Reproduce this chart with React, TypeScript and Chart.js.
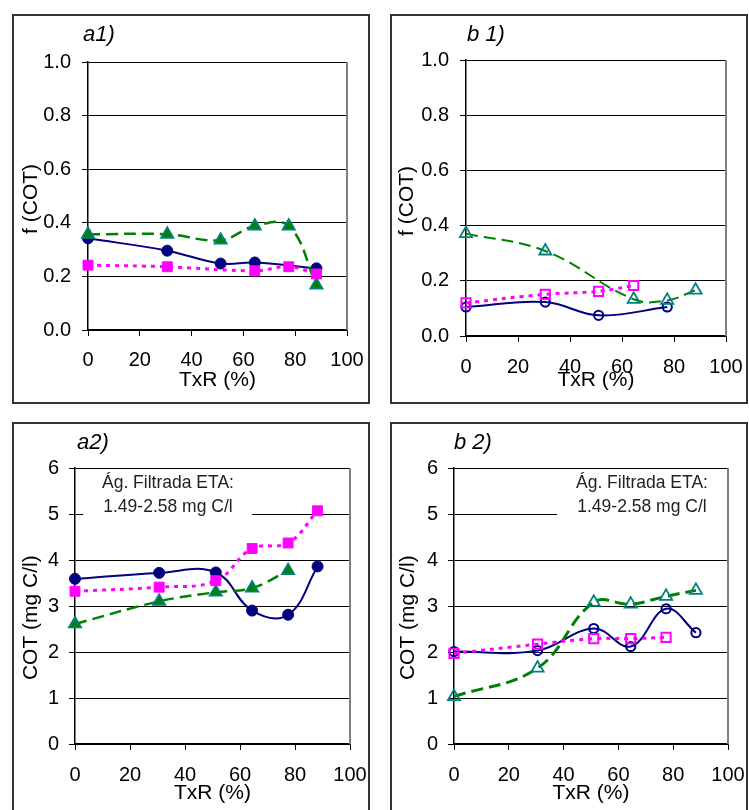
import React, { useEffect, useRef } from 'react';
import { Chart, registerables } from 'chart.js';
Chart.register(...registerables);

const FONT = "'Liberation Sans', Arial, Helvetica, sans-serif";

// TxR (%) of the sampling points
const txrA = [0, 30.6, 51.2, 64.4, 77.5, 88.2];
const txrB = [0, 30.5, 51, 64.5, 77.4, 88.3];

// a1) f (COT)
const a1Circles = [0.342, 0.296, 0.248, 0.252, null, 0.23];
const a1Squares = [0.242, 0.236, null, 0.221, 0.236, 0.209];
const a1Triangles = [0.357, 0.357, 0.335, 0.388, 0.388, 0.168];

// b1) f (COT)
const b1Circles = [0.105, 0.123, 0.075, null, 0.105, null];
const b1Squares = [0.12, 0.151, 0.162, 0.183, null, null];
const b1Triangles = [0.371, 0.308, null, 0.133, 0.129, 0.166];

// a2) COT (mg C/l)
const a2Circles = [3.59, 3.72, 3.73, 2.9, 2.81, 3.86];
const a2Squares = [3.32, 3.41, 3.55, 4.25, 4.37, 5.07];
const a2Triangles = [2.61, 3.1, 3.3, 3.39, 3.77, null];

// b2) COT (mg C/l)
const b2Circles = [2.01, 2.03, 2.51, 2.12, 2.94, 2.42];
const b2Squares = [1.97, 2.17, 2.29, 2.29, 2.32, null];
const b2Triangles = [1.03, 1.65, 3.08, 3.04, 3.21, 3.34];

const xTickLabels = ['0', '20', '40', '60', '80', '100'];
const fTickLabels = ['0.0', '0.2', '0.4', '0.6', '0.8', '1.0'];
const cotTickLabels = ['0', '1', '2', '3', '4', '5', '6'];

const noteLines = ['Ág. Filtrada ETA:', '1.49-2.58 mg C/l'];

const NAVY = '#000080';
const MAGENTA = '#FF00FF';
const GREEN = '#008000';
const TEAL = '#008080';
const CLEAR = 'rgba(255,255,255,0)';

function pts(xs: number[], ys: (number | null)[]) {
  return xs
    .map((x, i) => ({ x, y: ys[i] }))
    .filter((p) => p.y !== null && p.y !== undefined) as { x: number; y: number }[];
}

function seriesSet(xs: number[], circles: any[], squares: any[], triangles: any[], filled: boolean, greenW: number) {
  const common = { tension: 0.4, cubicInterpolationMode: 'default', clip: false, spanGaps: true, showLine: true };
  return [
    {
      ...common,
      label: 'squares',
      data: pts(xs, squares),
      borderColor: MAGENTA,
      borderWidth: 3,
      borderDash: [4, 5],
      pointStyle: 'rect',
      pointRadius: filled ? 7 : 6.5,
      pointBackgroundColor: filled ? MAGENTA : CLEAR,
      pointBorderColor: MAGENTA,
      pointBorderWidth: filled ? 1 : 2,
    },
    {
      ...common,
      label: 'triangles',
      data: pts(xs, triangles),
      borderColor: GREEN,
      borderWidth: greenW,
      borderDash: [12, 6],
      pointStyle: 'triangle',
      pointRadius: 7,
      pointBackgroundColor: filled ? GREEN : CLEAR,
      pointBorderColor: TEAL,
      pointBorderWidth: 1.8,
    },
    {
      ...common,
      label: 'circles',
      data: pts(xs, circles),
      borderColor: NAVY,
      borderWidth: 2,
      pointStyle: 'circle',
      pointRadius: filled ? 5.5 : 4.6,
      pointBackgroundColor: filled ? NAVY : CLEAR,
      pointBorderColor: NAVY,
      pointBorderWidth: filled ? 1 : 2,
    },
  ];
}

type Note = { x0: number; x1: number; yTop: number; yBot: number; cx: number; y1: number; y2: number };
type PanelCfg = {
  box: { left: number; top: number; w: number; h: number };
  pad: { left: number; top: number; right: number; bottom: number };
  yW: number;
  xH: number;
  yTickPad: number;
  xTickPad: number;
  yTitlePad: number;
  xTitlePad: number;
  yTitle: string;
  yMax: number;
  yStep: number;
  yLabels: string[];
  label: string;
  labelX: number;
  labelY: number;
  datasets: any[];
  note?: Note;
};

const panels: PanelCfg[] = [
  {
    box: { left: 12, top: 14, w: 358, h: 390 },
    pad: { left: 4, top: 48, right: 23, bottom: 0 },
    yW: 72, xH: 74, yTickPad: 11, xTickPad: 12, yTitlePad: 3, xTitlePad: 11,
    yTitle: 'f (COT) ', yMax: 1, yStep: 0.2, yLabels: fTickLabels,
    label: 'a1)', labelX: 71, labelY: 21,
    datasets: seriesSet(txrA, a1Circles, a1Squares, a1Triangles, true, 2.5),
  },
  {
    box: { left: 390, top: 14, w: 358, h: 390 },
    pad: { left: 4, top: 46, right: 22, bottom: 0 },
    yW: 72, xH: 68, yTickPad: 11, xTickPad: 13, yTitlePad: 1, xTitlePad: 11,
    yTitle: 'f (COT) ', yMax: 1, yStep: 0.2, yLabels: fTickLabels,
    label: 'b 1)', labelX: 77, labelY: 21,
    datasets: seriesSet(txrB, b1Circles, b1Squares, b1Triangles, false, 2),
  },
  {
    box: { left: 12, top: 422, w: 358, h: 388 },
    pad: { left: 4, top: 46, right: 20, bottom: 0 },
    yW: 59, xH: 66, yTickPad: 10, xTickPad: 13, yTitlePad: 3, xTitlePad: 4,
    yTitle: 'COT (mg C/l)    ', yMax: 6, yStep: 1, yLabels: cotTickLabels,
    label: 'a2)', labelX: 65, labelY: 21,
    datasets: seriesSet(txrA, a2Circles, a2Squares, a2Triangles, true, 2.5),
    note: { x0: 3, x1: 64.4, yTop: 5.93, yBot: 4.8, cx: 33.8, y1: 5.67, y2: 5.15 },
  },
  {
    box: { left: 390, top: 422, w: 358, h: 388 },
    pad: { left: 4, top: 46, right: 20, bottom: 0 },
    yW: 60, xH: 66, yTickPad: 10, xTickPad: 13, yTitlePad: 2, xTitlePad: 4,
    yTitle: 'COT (mg C/l)    ', yMax: 6, yStep: 1, yLabels: cotTickLabels,
    label: 'b 2)', labelX: 64, labelY: 21,
    datasets: seriesSet(txrB, b2Circles, b2Squares, b2Triangles, false, 3),
    note: { x0: 37.6, x1: 99.6, yTop: 5.93, yBot: 4.8, cx: 68.6, y1: 5.67, y2: 5.15 },
  },
];

function decorPlugin(p: PanelCfg) {
  return {
    id: 'decor',
    beforeDatasetsDraw(chart: any) {
      const { ctx, chartArea: a, scales } = chart;
      ctx.save();
      ctx.strokeStyle = '#808080';
      ctx.lineWidth = 2;
      ctx.beginPath();
      ctx.moveTo(a.right, a.top);
      ctx.lineTo(a.right, a.bottom);
      ctx.stroke();
      if (p.note) {
        const n = p.note;
        const x0 = scales.x.getPixelForValue(n.x0);
        const x1 = scales.x.getPixelForValue(n.x1);
        const yT = scales.y.getPixelForValue(n.yTop);
        const yB = scales.y.getPixelForValue(n.yBot);
        ctx.fillStyle = '#ffffff';
        ctx.fillRect(x0, yT, x1 - x0, yB - yT);
        ctx.fillStyle = '#222222';
        ctx.font = `17.5px ${FONT}`;
        ctx.textAlign = 'center';
        ctx.textBaseline = 'middle';
        const cx = scales.x.getPixelForValue(n.cx);
        ctx.fillText(noteLines[0], cx, scales.y.getPixelForValue(n.y1));
        ctx.fillText(noteLines[1], cx, scales.y.getPixelForValue(n.y2));
      }
      ctx.restore();
    },
    afterDraw(chart: any) {
      const { ctx } = chart;
      ctx.save();
      ctx.fillStyle = '#000';
      ctx.font = `italic 22px ${FONT}`;
      ctx.textAlign = 'left';
      ctx.textBaseline = 'middle';
      ctx.fillText(p.label, p.labelX, p.labelY);
      ctx.restore();
    },
  };
}

function buildConfig(p: PanelCfg): any {
  return {
    type: 'line',
    data: { datasets: p.datasets },
    plugins: [decorPlugin(p)],
    options: {
      responsive: false,
      animation: false,
      devicePixelRatio: 1,
      layout: { padding: p.pad },
      plugins: { legend: { display: false }, tooltip: { enabled: false }, title: { display: false } },
      scales: {
        x: {
          type: 'linear',
          min: 0,
          max: 100,
          afterFit: (s: any) => {
            s.height = p.xH;
            s.paddingLeft = 0;
            s.paddingRight = 0;
          },
          ticks: {
            stepSize: 20,
            autoSkip: false,
            maxRotation: 0,
            padding: p.xTickPad,
            color: '#000',
            font: { family: FONT, size: 20 },
            callback: (_v: any, i: number) => xTickLabels[i],
          },
          grid: { drawOnChartArea: false, drawTicks: true, tickLength: 6, color: '#000', lineWidth: 1 },
          border: { display: true, color: '#000', width: 1.5 },
          title: {
            display: true,
            text: 'TxR (%)',
            color: '#000',
            font: { family: FONT, size: 21, lineHeight: 1.2 },
            padding: { top: 0, bottom: p.xTitlePad },
          },
        },
        y: {
          type: 'linear',
          min: 0,
          max: p.yMax,
          afterFit: (s: any) => {
            s.width = p.yW;
            s.paddingTop = 0;
            s.paddingBottom = 0;
          },
          ticks: {
            stepSize: p.yStep,
            autoSkip: false,
            padding: p.yTickPad,
            color: '#000',
            font: { family: FONT, size: 20 },
            callback: (_v: any, i: number) => p.yLabels[i],
          },
          grid: { drawOnChartArea: true, drawTicks: true, tickLength: 6, color: '#000', lineWidth: 1 },
          border: { display: true, color: '#000', width: 1.5 },
          title: {
            display: true,
            text: p.yTitle,
            color: '#000',
            font: { family: FONT, size: 21, lineHeight: 1.2 },
            padding: { top: p.yTitlePad, bottom: 0 },
          },
        },
      },
    },
  };
}

function Panel({ cfg }: { cfg: PanelCfg }) {
  const ref = useRef<HTMLCanvasElement>(null);
  useEffect(() => {
    const chart = new Chart(ref.current as HTMLCanvasElement, buildConfig(cfg));
    return () => chart.destroy();
  }, [cfg]);
  return (
    <>
      <div
        style={{
          position: 'absolute',
          left: cfg.box.left,
          top: cfg.box.top,
          width: cfg.box.w,
          height: cfg.box.top > 400 ? cfg.box.h + 20 : cfg.box.h,
          boxSizing: 'border-box',
          border: '2px solid #333',
          background: '#fff',
        }}
      />
      <canvas
        ref={ref}
        width={cfg.box.w}
        height={cfg.box.h}
        style={{ position: 'absolute', left: cfg.box.left, top: cfg.box.top, width: cfg.box.w, height: cfg.box.h }}
      />
    </>
  );
}

export default function App() {
  return (
    <div style={{ position: 'absolute', left: 0, top: 0, width: 749, height: 810, overflow: 'hidden', background: '#fff' }}>
      {panels.map((p, i) => (
        <Panel key={i} cfg={p} />
      ))}
    </div>
  );
}
